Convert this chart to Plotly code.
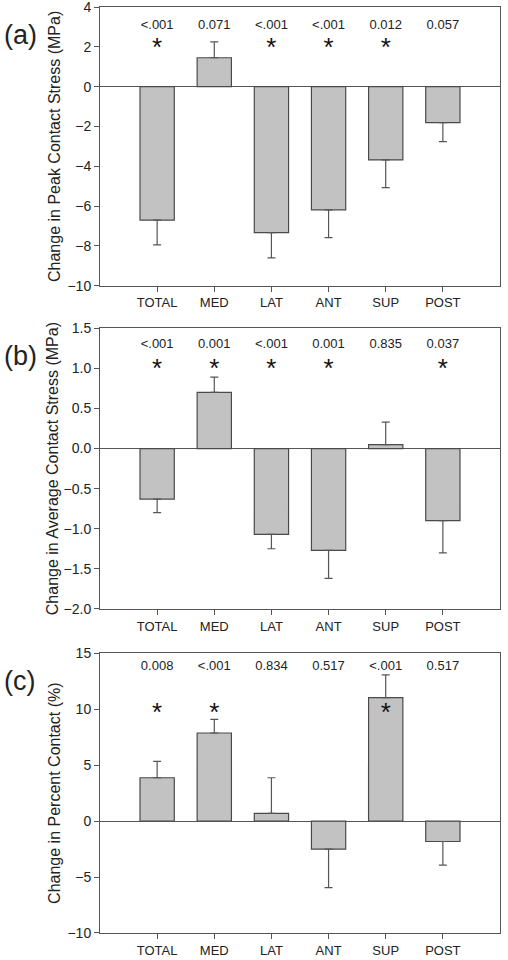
import plotly.graph_objects as go
from plotly.subplots import make_subplots

categories = ["TOTAL", "MED", "LAT", "ANT", "SUP", "POST"]

peak_change = [-6.7, 1.45, -7.33, -6.19, -3.68, -1.81]
peak_err = [1.25, 0.8, 1.27, 1.39, 1.39, 0.95]
peak_p = ["<.001", "0.071", "<.001", "<.001", "0.012", "0.057"]
peak_sig = [True, False, True, True, True, False]

avg_change = [-0.63, 0.70, -1.07, -1.27, 0.05, -0.90]
avg_err = [0.17, 0.19, 0.18, 0.35, 0.28, 0.40]
avg_p = ["<.001", "0.001", "<.001", "0.001", "0.835", "0.037"]
avg_sig = [True, True, True, True, False, True]

pct_change = [3.88, 7.88, 0.69, -2.51, 11.04, -1.82]
pct_err = [1.46, 1.22, 3.19, 3.43, 2.03, 2.12]
pct_p = ["0.008", "<.001", "0.834", "0.517", "<.001", "0.517"]
pct_sig = [True, True, False, False, True, False]

panels = [
    dict(vals=peak_change, err=peak_err, p=peak_p, sig=peak_sig, label="(a)",
         title="Change in Peak Contact Stress (MPa)", rng=[-10, 4], dtick=2,
         fmt="", p_y=3.08, star_y=1.85, standoff=2),
    dict(vals=avg_change, err=avg_err, p=avg_p, sig=avg_sig, label="(b)",
         title="Change in Average Contact Stress (MPa)", rng=[-2.0, 1.5], dtick=0.5,
         fmt=".1f", p_y=1.29, star_y=0.98, standoff=0),
    dict(vals=pct_change, err=pct_err, p=pct_p, sig=pct_sig, label="(c)",
         title="Change in Percent Contact (%)", rng=[-10, 15], dtick=5,
         fmt="", p_y=13.78, star_y=9.5, standoff=2),
]

domains = [[0.699, 1.0], [0.350, 0.653], [0.0, 0.302]]

FONT = "Liberation Sans, Arial, sans-serif"
TXT = "#222222"
LINE = "#555555"

fig = make_subplots(rows=3, cols=1)
xs = list(range(len(categories)))

for i, pn in enumerate(panels):
    r = i + 1
    plus = [e if v >= 0 else 0 for v, e in zip(pn["vals"], pn["err"])]
    minus = [e if v < 0 else 0 for v, e in zip(pn["vals"], pn["err"])]
    fig.add_trace(go.Bar(
        x=xs, y=pn["vals"], width=0.6,
        marker=dict(color="#c2c2c2", line=dict(color="#4a4a4a", width=1.2)),
        error_y=dict(type="data", symmetric=False, array=plus, arrayminus=minus,
                     color=LINE, thickness=1.2, width=4),
        showlegend=False, hoverinfo="skip"), row=r, col=1)
    fig.add_trace(go.Scatter(
        x=xs, y=[pn["p_y"]] * len(xs), mode="text", text=pn["p"],
        textfont=dict(size=13, color=TXT, family=FONT), showlegend=False,
        hoverinfo="skip"), row=r, col=1)
    sx = [x for x, s in zip(xs, pn["sig"]) if s]
    fig.add_trace(go.Scatter(
        x=sx, y=[pn["star_y"]] * len(sx), mode="text", text=["*"] * len(sx),
        textfont=dict(size=26, color="#111111", family=FONT), textposition="middle center",
        showlegend=False, hoverinfo="skip"), row=r, col=1)

    xa = "xaxis" if i == 0 else f"xaxis{r}"
    ya = "yaxis" if i == 0 else f"yaxis{r}"
    fig.layout[xa].update(
        domain=[0, 1], range=[-1, 6], tickmode="array", tickvals=xs, ticktext=categories,
        showline=True, linecolor=LINE, linewidth=1, mirror=True, ticks="outside",
        ticklen=5, tickcolor=LINE, showgrid=False, zeroline=False, automargin=False,
        ticklabeloverflow="allow",
        tickfont=dict(size=13, color=TXT, family=FONT))
    fig.layout[ya].update(
        domain=domains[i], range=pn["rng"], dtick=pn["dtick"], tick0=0,
        tickformat=pn["fmt"], showline=True, linecolor=LINE, linewidth=1, mirror=True,
        ticks="outside", ticklen=5, tickcolor=LINE, showgrid=False, automargin=False,
        ticklabeloverflow="allow",
        zeroline=True, zerolinecolor=LINE, zerolinewidth=1,
        tickfont=dict(size=14, color=TXT, family=FONT),
        title=dict(text=pn["title"], font=dict(size=16, color=TXT, family=FONT),
                   standoff=pn["standoff"]))
    fig.add_annotation(text=pn["label"], xref="paper", yref=f"y{'' if i == 0 else r} domain",
                       x=-0.245, y=0.9, xanchor="left", yanchor="middle", showarrow=False,
                       font=dict(size=27, color=TXT, family=FONT))

fig.update_layout(
    width=508, height=960, margin=dict(l=100, r=8, t=7, b=27),
    plot_bgcolor="white", paper_bgcolor="white", bargap=0.4,
    font=dict(family=FONT, color=TXT))

fig.write_html("out.html", config={"displayModeBar": False},
               post_script="document.body.style.margin='0';document.body.style.overflow='hidden';")
